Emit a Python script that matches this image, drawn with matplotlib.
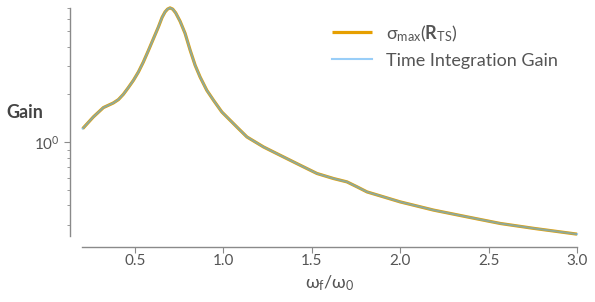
import numpy as np
import matplotlib
matplotlib.use('Agg')
import matplotlib.pyplot as plt
from matplotlib.ticker import LogLocator, NullFormatter

# frequency ratio and gain
freq_ratio = [0.204, 0.264, 0.321, 0.349, 0.377, 0.406, 0.434, 0.462, 0.491,
              0.519, 0.547, 0.576, 0.604, 0.632, 0.653, 0.670, 0.684, 0.698,
              0.713, 0.730, 0.755, 0.783, 0.812, 0.840, 0.868, 0.906, 0.944,
              0.991, 1.038, 1.085, 1.133, 1.227, 1.321, 1.434, 1.529,
              1.623, 1.699, 1.756, 1.812, 1.906, 2.001, 2.189, 2.379, 2.567,
              2.756, 3.000]
sigma_max = [1.219, 1.443, 1.653, 1.709, 1.767, 1.856, 2.004, 2.208, 2.455,
             2.768, 3.199, 3.790, 4.489, 5.311, 6.11, 6.62, 6.89, 7.01,
             6.89, 6.52, 5.77, 4.85, 3.790, 3.050, 2.575, 2.123, 1.837,
             1.551, 1.375, 1.219, 1.080, 0.934, 0.828, 0.717, 0.636,
             0.591, 0.563, 0.524, 0.487, 0.453, 0.421, 0.374, 0.339, 0.308,
             0.287, 0.264]
time_gain = list(sigma_max)

plt.rcParams['font.family'] = ['Lato', 'DejaVu Sans']
plt.rcParams['mathtext.fontset'] = 'custom'
plt.rcParams['mathtext.rm'] = 'Lato'
plt.rcParams['mathtext.it'] = 'Lato'
plt.rcParams['mathtext.bf'] = 'Lato:bold'
plt.rcParams['mathtext.fallback'] = 'stixsans'

spine_col = '#8a8a8a'
text_col = '#555555'

fig = plt.figure(figsize=(5.95, 3.02), dpi=100)
ax = fig.add_axes([82 / 595, 1 - 236 / 302, 495 / 595, 228 / 302])

ax.plot(freq_ratio, sigma_max, color='#E69F00', lw=2.3, solid_capstyle='butt',
        label=r'$\sigma_{\mathrm{max}}(\mathbf{R}_{\mathrm{TS}})$', clip_on=False)
ax.plot(freq_ratio, time_gain, color='#5ab0f5', lw=1.5, alpha=0.62,
        label='Time Integration Gain', clip_on=False)

ax.set_yscale('log')
ax.set_xlim(0.2, 3.0)
ax.set_ylim(0.257, 7.0)
ax.yaxis.set_major_locator(LogLocator(base=10))
ax.yaxis.set_minor_locator(LogLocator(base=10, subs=np.arange(2, 10)))
ax.yaxis.set_minor_formatter(NullFormatter())
ax.set_xticks([0.5, 1.0, 1.5, 2.0, 2.5, 3.0])

for s in ['top', 'right']:
    ax.spines[s].set_visible(False)
ax.spines['left'].set_position(('outward', 8.6))
ax.spines['bottom'].set_position(('outward', 7.9))
for s in ['left', 'bottom']:
    ax.spines[s].set_color(spine_col)
    ax.spines[s].set_linewidth(1.0)

ax.tick_params(which='both', colors=spine_col, labelcolor=text_col, labelsize=11)
ax.tick_params(which='major', length=4)
ax.tick_params(which='minor', length=2.5)
ax.tick_params(axis='x', pad=1)

ax.set_xlabel(r'$\omega_{\mathrm{f}}/\omega_{0}$', fontsize=13, color=text_col)
ax.set_ylabel('Gain', rotation=0, fontsize=13, fontweight='bold', color='#444444',
              ha='center', va='center')
ax.yaxis.set_label_coords(-0.115, 0.54)

leg = ax.legend(loc='upper right', frameon=False, fontsize=13,
                bbox_to_anchor=(0.995, 1.005), handlelength=2.2, labelcolor=text_col)

fig.savefig('out.png', dpi=100)
